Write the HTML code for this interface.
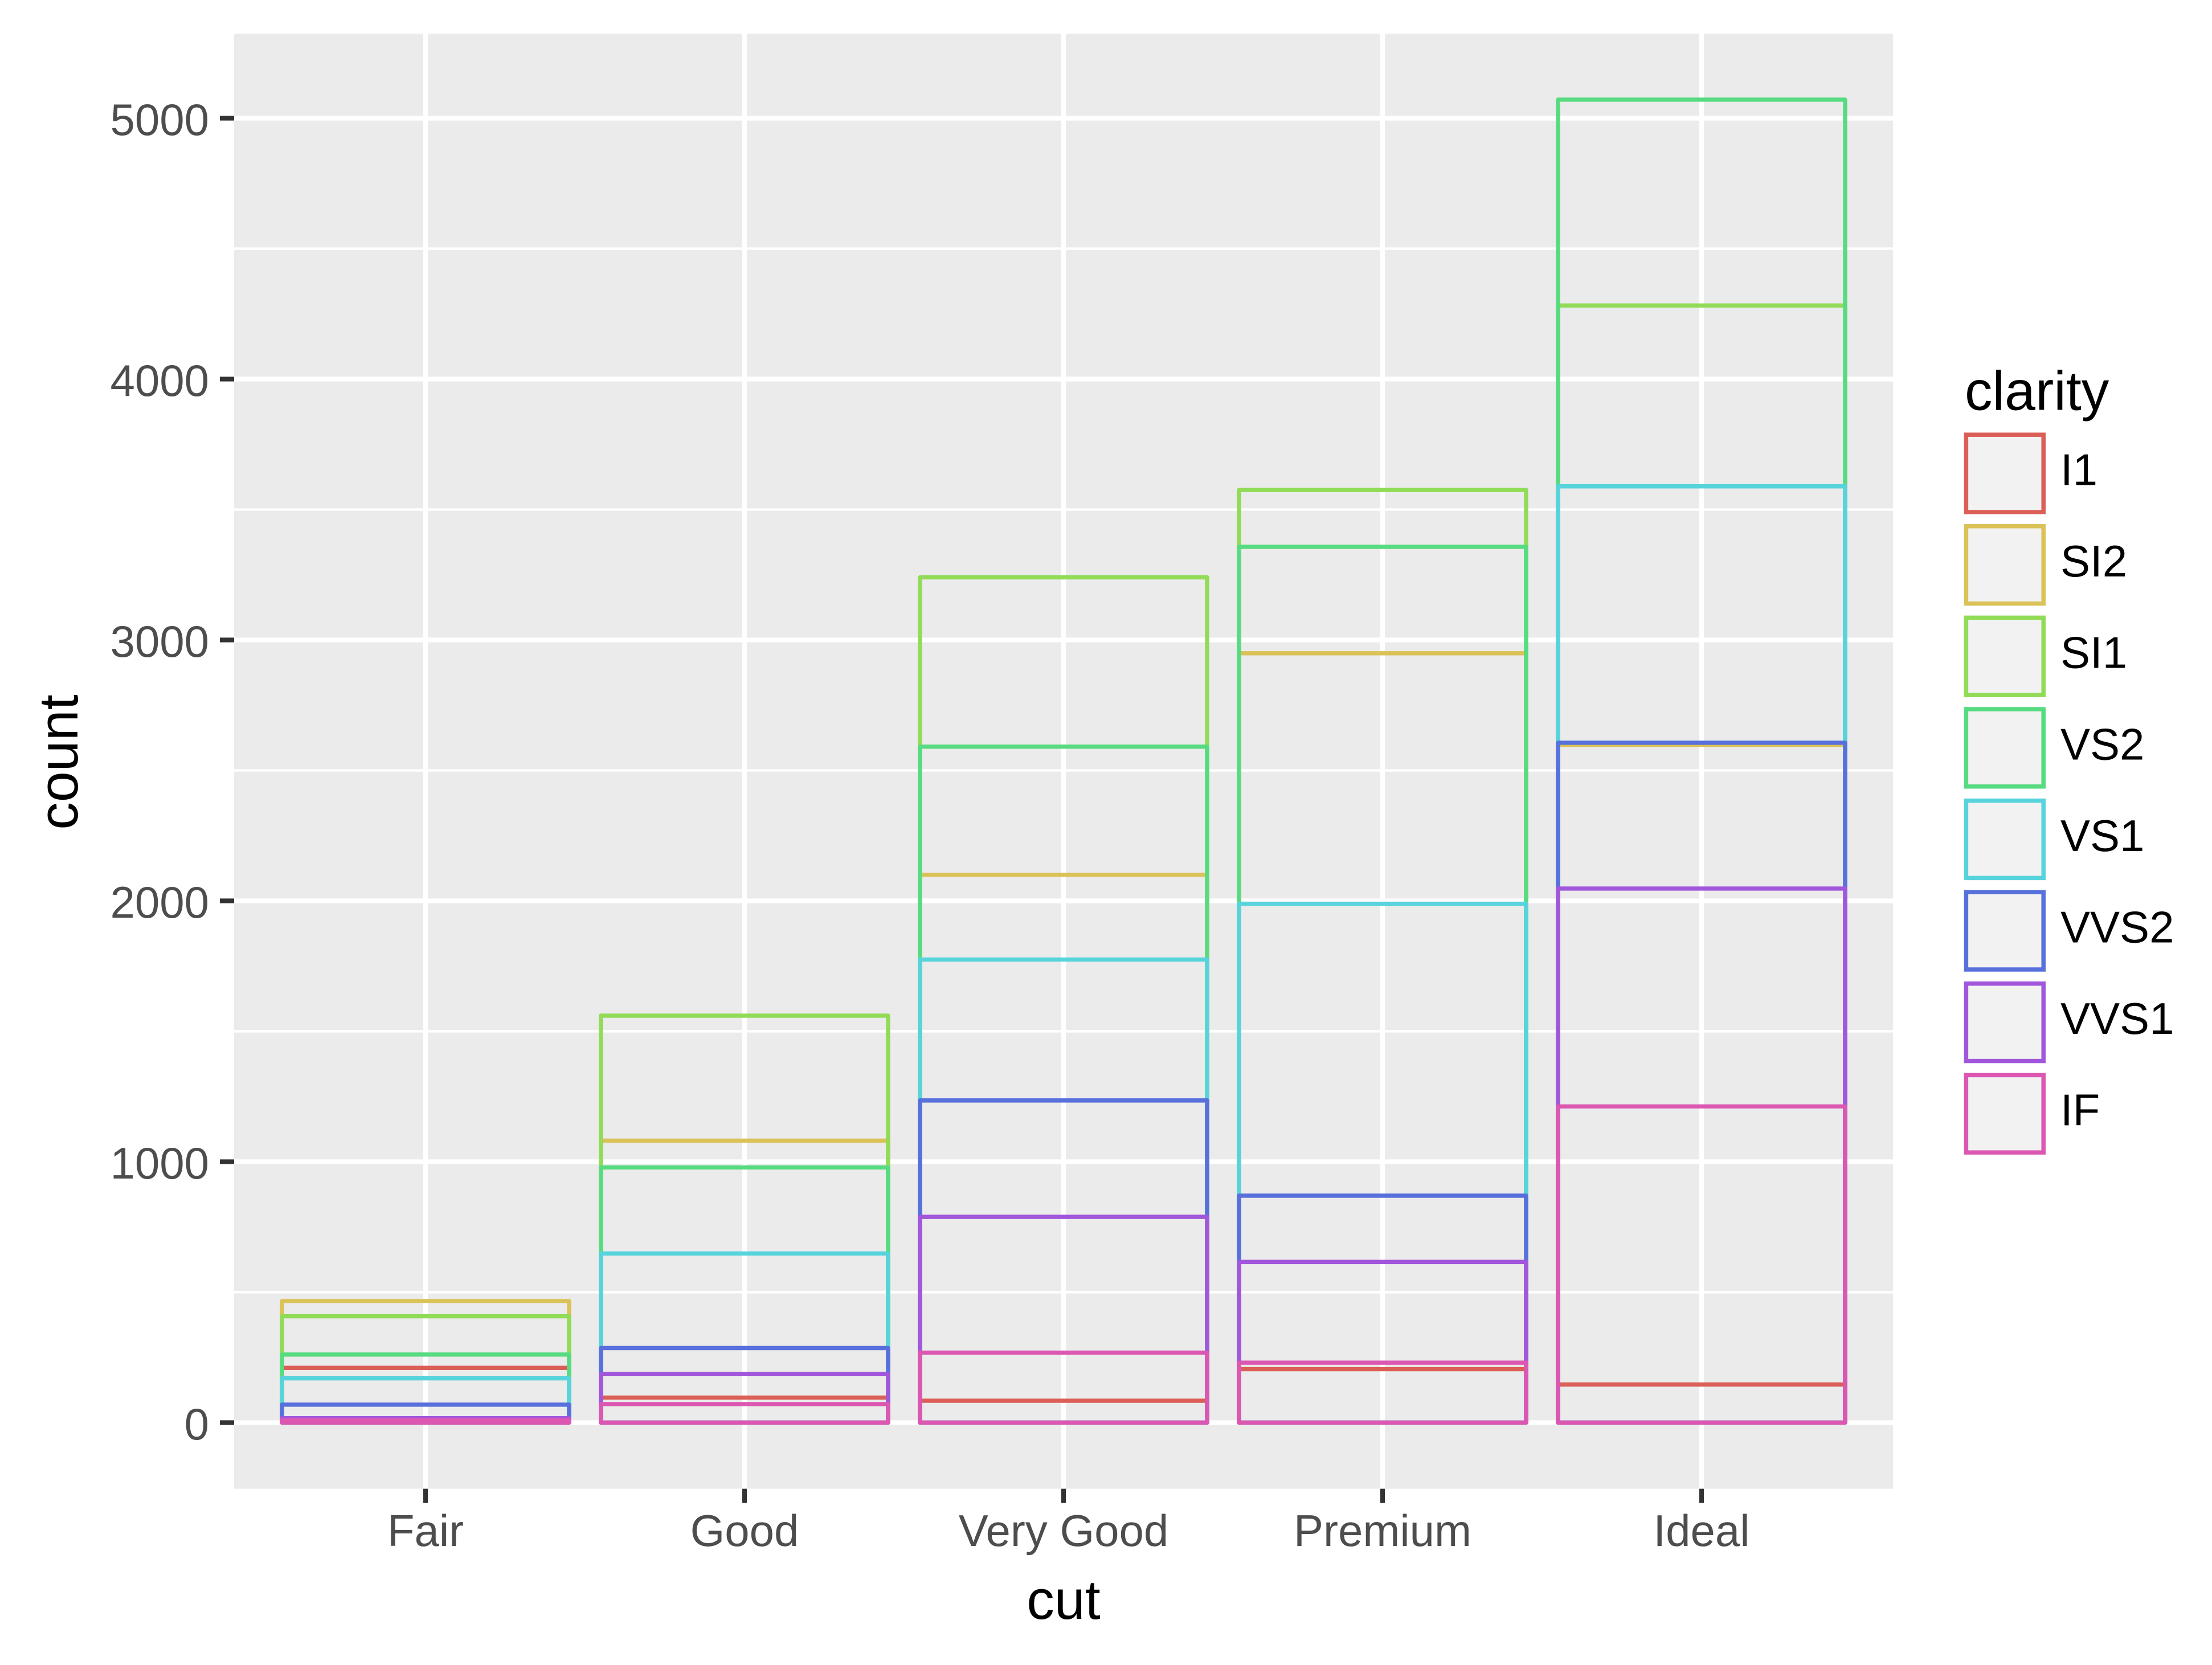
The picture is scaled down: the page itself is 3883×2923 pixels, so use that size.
<!DOCTYPE html>
<html>
<head>
<meta charset="utf-8">
<style>
html,body{margin:0;padding:0;background:#ffffff;}
svg{display:block;}
text{font-family:"Liberation Sans",Arial,Helvetica,sans-serif;}
</style>
</head>
<body>
<svg width="3883" height="2923" viewBox="0 0 3883 2923" xmlns="http://www.w3.org/2000/svg">
<rect x="0" y="0" width="3883" height="2923" fill="#ffffff"/>
<!-- panel -->
<rect x="411" y="59" width="2912" height="2554.6" fill="#EBEBEB"/>
<!-- minor gridlines -->
<g stroke="#ffffff" stroke-width="4.2">
<line x1="411" x2="3323" y1="2268.5" y2="2268.5"/>
<line x1="411" x2="3323" y1="1810.5" y2="1810.5"/>
<line x1="411" x2="3323" y1="1352.5" y2="1352.5"/>
<line x1="411" x2="3323" y1="894.5" y2="894.5"/>
<line x1="411" x2="3323" y1="436.5" y2="436.5"/>
</g>
<!-- major gridlines -->
<g stroke="#ffffff" stroke-width="8.2">
<line x1="411" x2="3323" y1="2497.5" y2="2497.5"/>
<line x1="411" x2="3323" y1="2039.5" y2="2039.5"/>
<line x1="411" x2="3323" y1="1581.5" y2="1581.5"/>
<line x1="411" x2="3323" y1="1123.5" y2="1123.5"/>
<line x1="411" x2="3323" y1="665.5" y2="665.5"/>
<line x1="411" x2="3323" y1="207.5" y2="207.5"/>
<line x1="747" x2="747" y1="59" y2="2613.6"/>
<line x1="1307" x2="1307" y1="59" y2="2613.6"/>
<line x1="1867" x2="1867" y1="59" y2="2613.6"/>
<line x1="2427" x2="2427" y1="59" y2="2613.6"/>
<line x1="2987" x2="2987" y1="59" y2="2613.6"/>
</g>
<!-- bars: drawn I1, SI2, SI1, VS2, VS1, VVS2, VVS1, IF -->
<g fill="none" stroke-width="7.4" stroke-linejoin="round">
<!-- I1 -->
<g stroke="#DB5F57">
<rect x="495" y="2401.32" width="504" height="96.18"/>
<rect x="1055" y="2453.53" width="504" height="43.97"/>
<rect x="1615" y="2459.03" width="504" height="38.47"/>
<rect x="2175" y="2403.61" width="504" height="93.89"/>
<rect x="2735" y="2430.63" width="504" height="66.87"/>
</g>
<!-- SI2 -->
<g stroke="#DBC257">
<rect x="495" y="2284.07" width="504" height="213.43"/>
<rect x="1055" y="2002.40" width="504" height="495.10"/>
<rect x="1615" y="1535.70" width="504" height="961.80"/>
<rect x="2175" y="1146.86" width="504" height="1350.64"/>
<rect x="2735" y="1307.62" width="504" height="1189.88"/>
</g>
<!-- SI1 -->
<g stroke="#91DB57">
<rect x="495" y="2310.64" width="504" height="186.86"/>
<rect x="1055" y="1783.02" width="504" height="714.48"/>
<rect x="1615" y="1013.58" width="504" height="1483.92"/>
<rect x="2175" y="860.15" width="504" height="1637.35"/>
<rect x="2735" y="536.34" width="504" height="1961.16"/>
</g>
<!-- VS2 -->
<g stroke="#57DB80">
<rect x="495" y="2377.96" width="504" height="119.54"/>
<rect x="1055" y="2049.58" width="504" height="447.92"/>
<rect x="1615" y="1310.82" width="504" height="1186.68"/>
<rect x="2175" y="959.99" width="504" height="1537.51"/>
<rect x="2735" y="174.98" width="504" height="2322.52"/>
</g>
<!-- VS1 -->
<g stroke="#57D3DB">
<rect x="495" y="2419.64" width="504" height="77.86"/>
<rect x="1055" y="2200.72" width="504" height="296.78"/>
<rect x="1615" y="1684.55" width="504" height="812.95"/>
<rect x="2175" y="1586.54" width="504" height="910.96"/>
<rect x="2735" y="853.74" width="504" height="1643.76"/>
</g>
<!-- VVS2 -->
<g stroke="#5770DB">
<rect x="495" y="2465.90" width="504" height="31.60"/>
<rect x="1055" y="2366.51" width="504" height="130.99"/>
<rect x="1615" y="1931.87" width="504" height="565.63"/>
<rect x="2175" y="2099.04" width="504" height="398.46"/>
<rect x="2735" y="1303.95" width="504" height="1193.55"/>
</g>
<!-- VVS1 -->
<g stroke="#A157DB">
<rect x="495" y="2489.71" width="504" height="7.79"/>
<rect x="1055" y="2412.31" width="504" height="85.19"/>
<rect x="1615" y="2136.14" width="504" height="361.36"/>
<rect x="2175" y="2215.37" width="504" height="282.13"/>
<rect x="2735" y="1559.97" width="504" height="937.53"/>
</g>
<!-- IF -->
<g stroke="#DB57B2">
<rect x="495" y="2493.38" width="504" height="4.12"/>
<rect x="1055" y="2464.98" width="504" height="32.52"/>
<rect x="1615" y="2374.76" width="504" height="122.74"/>
<rect x="2175" y="2392.16" width="504" height="105.34"/>
<rect x="2735" y="1942.40" width="504" height="555.10"/>
</g>
</g>
<!-- axis ticks -->
<g stroke="#333333" stroke-width="8.2">
<line x1="386" x2="411" y1="2497.5" y2="2497.5"/>
<line x1="386" x2="411" y1="2039.5" y2="2039.5"/>
<line x1="386" x2="411" y1="1581.5" y2="1581.5"/>
<line x1="386" x2="411" y1="1123.5" y2="1123.5"/>
<line x1="386" x2="411" y1="665.5" y2="665.5"/>
<line x1="386" x2="411" y1="207.5" y2="207.5"/>
<line x1="747" x2="747" y1="2613.6" y2="2638.6"/>
<line x1="1307" x2="1307" y1="2613.6" y2="2638.6"/>
<line x1="1867" x2="1867" y1="2613.6" y2="2638.6"/>
<line x1="2427" x2="2427" y1="2613.6" y2="2638.6"/>
<line x1="2987" x2="2987" y1="2613.6" y2="2638.6"/>
</g>
<!-- y tick labels -->
<g fill="#4D4D4D" font-size="78" text-anchor="end">
<text x="367" y="2527">0</text>
<text x="367" y="2069">1000</text>
<text x="367" y="1611">2000</text>
<text x="367" y="1153">3000</text>
<text x="367" y="695">4000</text>
<text x="367" y="237">5000</text>
</g>
<!-- x tick labels -->
<g fill="#4D4D4D" font-size="78" text-anchor="middle">
<text x="747" y="2714">Fair</text>
<text x="1307" y="2714">Good</text>
<text x="1867" y="2714">Very Good</text>
<text x="2427" y="2714">Premium</text>
<text x="2987" y="2714">Ideal</text>
</g>
<!-- axis titles -->
<text x="1867" y="2842" font-size="97" text-anchor="middle" fill="#000000">cut</text>
<text x="0" y="0" font-size="97" text-anchor="middle" fill="#000000" transform="translate(136,1338) rotate(-90)">count</text>
<!-- legend -->
<text x="3449" y="719.6" font-size="97" fill="#000000">clarity</text>
<g stroke-width="7.5" fill="#F2F2F2" stroke-linejoin="miter">
<rect x="3451.4" y="763.2" width="135.8" height="135.8" stroke="#DB5F57"/>
<rect x="3451.4" y="923.8" width="135.8" height="135.8" stroke="#DBC257"/>
<rect x="3451.4" y="1084.4" width="135.8" height="135.8" stroke="#91DB57"/>
<rect x="3451.4" y="1245.0" width="135.8" height="135.8" stroke="#57DB80"/>
<rect x="3451.4" y="1405.6" width="135.8" height="135.8" stroke="#57D3DB"/>
<rect x="3451.4" y="1566.2" width="135.8" height="135.8" stroke="#5770DB"/>
<rect x="3451.4" y="1726.8" width="135.8" height="135.8" stroke="#A157DB"/>
<rect x="3451.4" y="1887.4" width="135.8" height="135.8" stroke="#DB57B2"/>
</g>
<g fill="#000000" font-size="78">
<text x="3617" y="851.5">I1</text>
<text x="3617" y="1012.1">SI2</text>
<text x="3617" y="1172.7">SI1</text>
<text x="3617" y="1333.3">VS2</text>
<text x="3617" y="1493.9">VS1</text>
<text x="3617" y="1654.5">VVS2</text>
<text x="3617" y="1815.1">VVS1</text>
<text x="3617" y="1975.7">IF</text>
</g>
</svg>
</body>
</html>
